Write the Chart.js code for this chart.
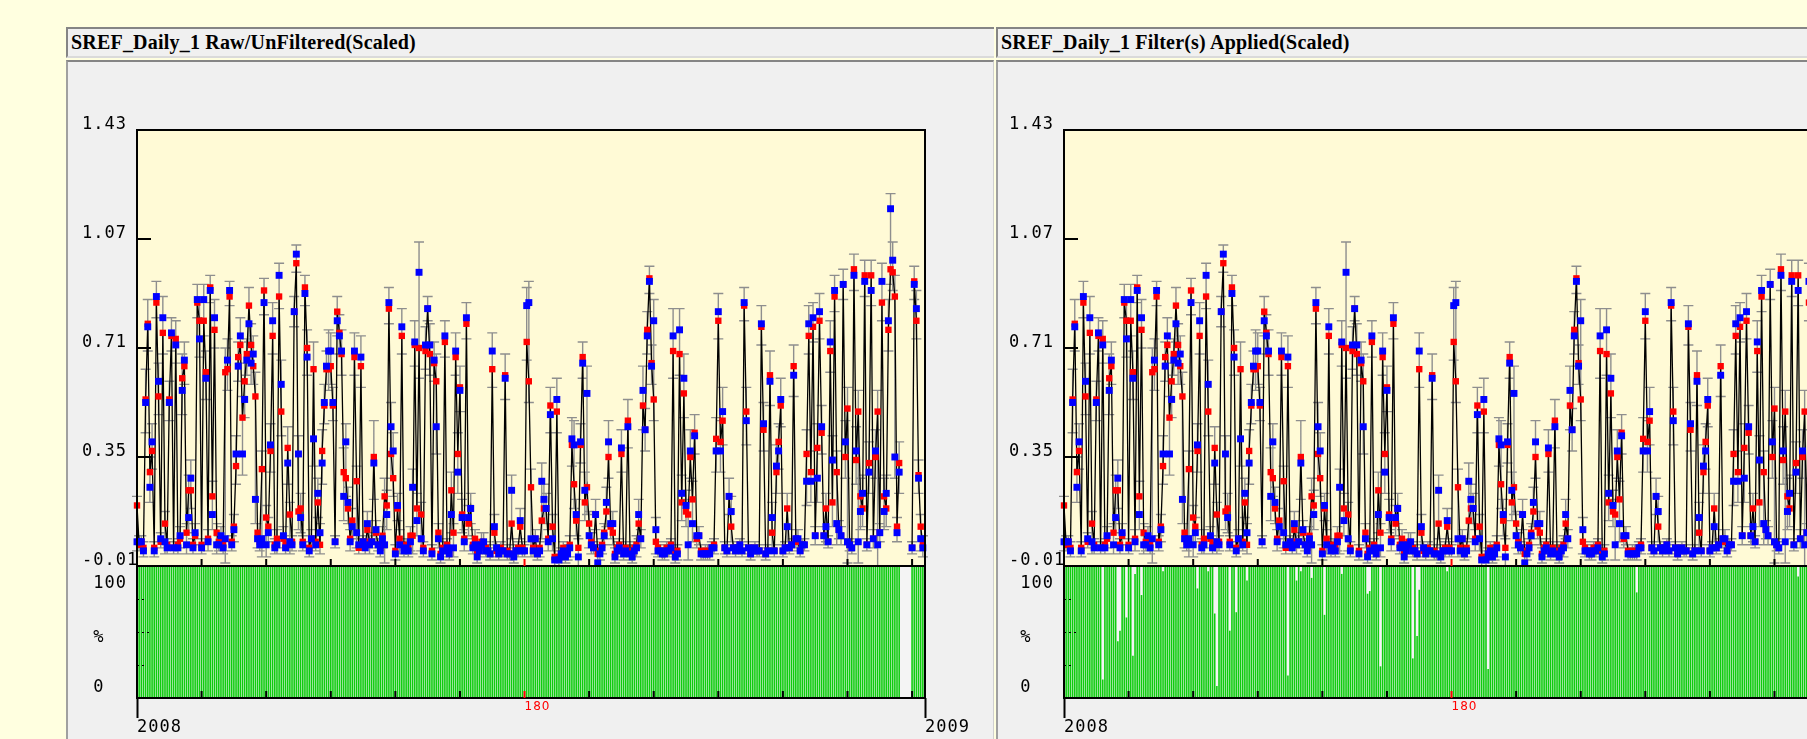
<!DOCTYPE html>
<html>
<head>
<meta charset="utf-8">
<script src="https://cdn.jsdelivr.net/npm/chart.js@4.4.1/dist/chart.umd.min.js"></script>
<style>
  body { margin:0; width:1807px; height:739px; overflow:hidden; background:#FFFFE0; position:relative; }
  .title { position:absolute; top:27px; height:31px; box-sizing:border-box; background:#F0F0F0;
           border-top:2px solid #858585; border-left:2px solid #858585; border-bottom:2px solid #DADADA;
           font:bold 20px "Liberation Serif", serif; letter-spacing:0.2px; line-height:27px; padding-left:3px;
           white-space:nowrap; overflow:hidden; }
  .panel { position:absolute; top:60px; height:679px; box-sizing:border-box; background:#F0F0F0;
           border-top:2px solid #858585; border-left:2px solid #A0A0A0; }
  canvas { position:absolute; top:62px; }
</style>
</head>
<body>
<div class="title" style="left:66px;width:928px">SREF_Daily_1 Raw/UnFiltered(Scaled)</div>
<div class="title" style="left:996px;width:820px">SREF_Daily_1 Filter(s) Applied(Scaled)</div>
<div class="panel" style="left:66px;width:928px;border-right:1px solid #D0D0D0"></div>
<div class="panel" style="left:996px;width:820px"></div>
<canvas id="raw" width="927" height="677" style="left:66px"></canvas>
<canvas id="filtered" width="927" height="677" style="left:993px"></canvas>
<script>
// daily values for 2008 (index = day of year)
const red = [
  .19,.06,.07,.05,.54,.79,.30,.37,.05,.86, .55,.07,.76,.13,.06,.54,.75,.05,.74,.06,
  .08,.61,.65,.10,.24,.24,.06,.09,.86,.80, .06,.80,.63,.08,.91,.22,.77,.10,.07,.07,
  .06,.63,.64,.88,.07,.12,.32,.68,.72,.48, .60,.69,.85,.72,.65,.55,.10,.07,.31,.90,
  .15,.12,.37,.75,.06,.08,.88,.50,.08,.06, .38,.16,.07,.83,.99,.17,.18,.07,.91,.71,
  .05,.08,.64,.07,.20,.06,.37,.52,.64,.64, .65,.52,.07,.83,.76,.69,.30,.28,.18,.08,
  .14,.68,.27,.05,.65,.07,.06,.11,.07,.07, .35,.10,.06,.05,.09,.22,.19,.84,.36,.28,
  .04,.18,.08,.75,.05,.06,.05,.09,.09,.72, .18,.71,.16,.05,.70,.84,.69,.04,.66,.60,
  .10,.03,.05,.73,.06,.03,.24,.10,.68,.36, .58,.16,.08,.79,.13,.18,.06,.08,.03,.05,
  .07,.06,.05,.04,.03,.64,.10,.04,.03,.05, .04,.62,.04,.03,.13,.03,.04,.05,.12,.05,
  .04,.73,.60,.25,.05,.08,.03,.05,.14,.18, .18,.08,.52,.12,.02,.50,.02,.03,.05,.03,
  .04,.06,.39,.26,.14,.05,.39,.68,.20,.25, .13,.07,.05,.16,.03,.04,.06,.10,.17,.35,
  .12,.10,.03,.05,.06,.36,.04,.05,.47,.04, .03,.05,.06,.13,.08,.52,.44,.77,.94,.66,
  .54,.07,.05,.04,.03,.04,.05,.05,.06,.70, .03,.04,.69,.20,.56,.17,.16,.35,.21,.43,
  .08,.09,.04,.03,.04,.04,.03,.05,.06,.41, .80,.40,.47,.05,.04,.22,.12,.05,.04,.05,
  .06,.04,.85,.50,.05,.03,.04,.05,.04,.04, .78,.44,.03,.04,.62,.10,.04,.30,.40,.52,
  .04,.05,.18,.05,.06,.65,.08,.07,.04,.06, .06,.36,.75,.30,.78,.09,.38,.80,.43,.09,
  .18,.07,.70,.20,.88,.30,.11,.09,.92,.35, .51,.06,.05,.97,.34,.50,.22,.18,.95,.06,
  .33,.95,.08,.35,.50,.10,.86,.22,.18,.77, .97,.96,.88,.12,.33,null,null,null,null,null,
  .05,.93,.80,.29,.12,.06
];
const blue = [
  .07,.07,.07,.04,.53,.78,.25,.40,.04,.88, .60,.08,.81,.07,.05,.53,.76,.05,.72,.05,
  .09,.57,.67,.06,.15,.28,.05,.10,.87,.74, .05,.87,.61,.07,.90,.16,.81,.06,.06,.09,
  .05,.08,.67,.90,.06,.11,.36,.65,.75,.36, .54,.67,.79,.66,.69,.21,.08,.06,.08,.86,
  .06,.10,.39,.80,.05,.06,.95,.59,.09,.05, .33,.07,.06,.83,1.02,.36,.15,.06,.89,.68,
  .04,.08,.41,.06,.23,.10,.33,.53,.65,.70, .70,.53,.07,.80,.75,.70,.22,.40,.20,.07,
  .12,.70,.10,.06,.68,.07,.05,.13,.06,.07, .33,.11,.06,.04,.08,.06,.16,.86,.45,.37,
  .03,.19,.06,.78,.04,.05,.04,.07,.25,.73, .14,.96,.08,.04,.72,.84,.72,.03,.67,.45,
  .08,.02,.04,.75,.05,.03,.16,.05,.70,.30, .57,.15,.07,.81,.15,.18,.05,.06,.02,.04,
  .06,.07,.04,.04,.03,.70,.12,.05,.03,.04, .04,.61,.03,.03,.24,.02,.04,.04,.14,.04,
  .04,.85,.86,.08,.04,.08,.03,.04,.27,.21, .18,.07,.49,.08,.01,.54,.01,.03,.04,.02,
  .03,.05,.41,.39,.16,.02,.40,.66,.24,.56, .09,.06,.05,.16,.00,.03,.05,.09,.20,.40,
  .13,.13,.02,.04,.05,.38,.03,.04,.45,.03, .02,.04,.05,.16,.08,.57,.44,.75,.93,.65,
  .80,.11,.04,.04,.03,.03,.04,.04,.05,.75, .02,.03,.77,.23,.61,.19,.06,.37,.13,.42,
  .09,.09,.03,.03,.03,.03,.03,.05,.05,.37, .83,.37,.50,.05,.04,.22,.17,.05,.04,.05,
  .06,.04,.86,.47,.05,.03,.04,.05,.04,.04, .79,.46,.03,.04,.60,.15,.04,.32,.37,.54,
  .04,.05,.12,.05,.06,.62,.08,.08,.04,.06, .06,.27,.79,.27,.81,.09,.28,.83,.45,.09,
  .12,.07,.73,.34,.90,.13,.11,.09,.92,.40, .07,.06,.05,.95,.37,.07,.17,.23,.93,.06,
  .30,.90,.08,.37,.06,.10,.93,.17,.23,.80, 1.17,1.00,.35,.10,.30,null,null,null,null,null,
  .05,.92,.84,.28,.08,.05
];
// grey error bar reach beyond the red/blue pair
const errs = [
  .03,.02,.02,.02,.10,.08,.05,.06,.02,.05, .06,.02,.07,.04,.02,.06,.05,.02,.06,.02,
  .03,.08,.06,.03,.05,.06,.02,.03,.05,.06, .02,.05,.07,.03,.04,.05,.06,.03,.02,.03,
  .02,.08,.07,.03,.02,.04,.06,.05,.06,.07, .06,.05,.06,.07,.06,.08,.03,.02,.06,.04,
  .04,.03,.07,.06,.02,.03,.04,.08,.03,.02, .07,.04,.02,.05,.03,.06,.05,.02,.04,.06,
  .02,.03,.09,.02,.05,.03,.07,.06,.05,.07, .06,.05,.02,.05,.06,.07,.08,.06,.05,.03,
  .04,.06,.05,.02,.07,.02,.02,.04,.03,.02, .12,.03,.02,.02,.03,.06,.05,.05,.08,.06,
  .02,.04,.03,.06,.02,.02,.02,.03,.06,.07, .05,.10,.04,.02,.06,.04,.07,.02,.06,.09,
  .03,.02,.02,.05,.02,.02,.06,.03,.06,.07, .07,.05,.03,.05,.04,.05,.02,.03,.02,.02,
  .03,.03,.02,.02,.02,.06,.04,.02,.02,.02, .02,.07,.02,.02,.05,.02,.02,.02,.04,.02,
  .02,.06,.07,.06,.02,.03,.02,.02,.06,.05, .05,.03,.06,.04,.02,.07,.02,.02,.02,.02,
  .02,.03,.07,.08,.05,.03,.06,.05,.06,.09, .04,.03,.02,.05,.02,.02,.02,.03,.05,.07,
  .04,.04,.02,.02,.02,.06,.02,.02,.07,.02, .02,.02,.03,.05,.03,.08,.07,.06,.04,.06,
  .07,.04,.02,.02,.02,.02,.02,.02,.02,.09, .02,.02,.07,.06,.08,.05,.05,.07,.06,.06,
  .03,.03,.02,.02,.02,.02,.02,.02,.02,.07, .06,.07,.08,.02,.02,.06,.05,.02,.02,.02,
  .02,.02,.05,.08,.02,.02,.02,.02,.02,.02, .06,.07,.02,.02,.08,.05,.02,.07,.06,.07,
  .02,.02,.05,.02,.02,.07,.03,.03,.02,.02, .02,.08,.06,.07,.05,.03,.08,.06,.07,.03,
  .05,.02,.07,.08,.05,.07,.03,.03,.05,.07, .07,.02,.02,.05,.08,.07,.06,.06,.05,.02,
  .07,.05,.03,.07,.07,.03,.06,.06,.06,.07, .05,.06,.07,.03,.07,0,0,0,0,0,
  .02,.05,.06,.05,.04,.03
];
const dayTicks = [0, 30, 60, 90, 120, 150, 180, 210, 240, 270, 300, 330, 360, 366];
const valueTicks = [-0.01, 0.35, 0.71, 1.07, 1.43];
// label spots on the % strip (leading space indents them one character)
const pctLabels = [[7.6, ' 0'], [46, ' %'], [87, ' 100']];
const pctMinorTicks = [25, 50, 75];
// % of data per day: raw is full except the gap, filtered has these short days
const rawMissing = [355, 356, 357, 358, 359];
const filteredShort = [
  [18,14],[25,43],[26,51],[29,61],[32,32],[33,94],[36,78],[46,96],[62,83],[67,96],
  [70,64],[71,9],[77,51],[80,65],[85,89],[104,17],[108,89],[110,96],[115,91],[121,63],
  [129,94],[141,79],[142,81],[147,24],[162,30],[164,47],[165,82],[178,96],[197,22],
  [266,80],[341,92]
];

const rawPct = red.map((v, i) => rawMissing.includes(i) ? 0 : 100);
const filteredPct = rawPct.slice();
filteredShort.forEach(([d, p]) => { filteredPct[d] = p; });

const mono = '"DejaVu Sans Mono", monospace';

const decor = {
  id: 'decor',
  afterInit(chart) { chart.ctx.letterSpacing = '1px'; },
  beforeDraw(chart) {
    const {ctx, scales: {x, y, yp}} = chart;
    ctx.save();
    ctx.fillStyle = '#FFFAD6';
    ctx.fillRect(x.left, y.top, x.right - x.left, y.bottom - y.top);
    ctx.fillStyle = '#F4F4F4';
    ctx.fillRect(x.left, yp.top, x.right - x.left, yp.bottom - yp.top);
    ctx.restore();
  },
  afterDatasetDraw(chart, args) {
    if (args.index !== 0) return;
    // error bars go over the green strip's dataset, under the line
    const {ctx, scales: {x, y}} = chart;
    ctx.save();
    ctx.strokeStyle = '#8E8E8E';
    ctx.lineWidth = 1.4;
    ctx.beginPath();
    red.forEach((v, i) => {
      if (v == null) return;
      const lo = Math.max(Math.min(v, blue[i]) - errs[i], -0.01);
      const hi = Math.max(v, blue[i]) + errs[i];
      const px = x.getPixelForValue(i), p1 = y.getPixelForValue(lo), p2 = y.getPixelForValue(hi);
      ctx.moveTo(px, p1); ctx.lineTo(px, p2);
      ctx.moveTo(px - 5, p2); ctx.lineTo(px + 5, p2);
      ctx.moveTo(px - 5, p1); ctx.lineTo(px + 5, p1);
    });
    ctx.stroke();
    ctx.restore();
  },
  afterDraw(chart) {
    const {ctx, scales: {x, y, yp}} = chart;
    ctx.save();
    ctx.strokeStyle = '#000';
    ctx.lineWidth = 2;
    ctx.strokeRect(x.left, y.top, x.right - x.left, yp.bottom - y.top);
    ctx.beginPath();
    ctx.moveTo(x.left, y.bottom); ctx.lineTo(x.right, y.bottom);
    valueTicks.slice(1, -1).forEach(v => {
      const py = y.getPixelForValue(v);
      ctx.moveTo(x.left, py); ctx.lineTo(x.left + 14, py);
    });
    ctx.stroke();
    dayTicks.slice(1, -1).forEach(d => {
      const px = x.getPixelForValue(d);
      ctx.strokeStyle = d === 180 ? '#FF0000' : '#000';
      ctx.beginPath();
      ctx.moveTo(px, y.bottom); ctx.lineTo(px, y.bottom - 7);
      ctx.moveTo(px, yp.bottom); ctx.lineTo(px, yp.bottom - 7);
      ctx.stroke();
    });
    ctx.strokeStyle = '#000';
    ctx.lineWidth = 1;
    ctx.setLineDash([2, 3]);
    ctx.beginPath();
    pctMinorTicks.forEach(p => {
      const py = Math.round(yp.getPixelForValue(p)) + 0.5;
      ctx.moveTo(x.left, py); ctx.lineTo(x.left + (p === 50 ? 15 : 9), py);
    });
    ctx.stroke();
    ctx.restore();
  }
};

function makeChart(id, pct) {
  return new Chart(document.getElementById(id), {
    type: 'scatter',
    data: {
      datasets: [
        { type: 'bar', data: pct.map((v, i) => ({x: i, y: v})), yAxisID: 'yp',
          backgroundColor: '#0FCC0F', barPercentage: 0.74, categoryPercentage: 1, order: 4 },
        { type: 'line', data: red.map((v, i) => ({x: i, y: v})), yAxisID: 'y',
          borderColor: '#000', borderWidth: 1.3, pointRadius: 0, spanGaps: false, order: 3 },
        { data: red.map((v, i) => ({x: i, y: v})), yAxisID: 'y', pointStyle: 'rect',
          pointRadius: 4.5, backgroundColor: '#FF0000', borderWidth: 0, clip: false, order: 2 },
        { data: blue.map((v, i) => ({x: i, y: v})), yAxisID: 'y', pointStyle: 'rect',
          pointRadius: 4.9, backgroundColor: '#0000FF', borderWidth: 0, clip: false, order: 1 }
      ]
    },
    options: {
      responsive: false,
      animation: false,
      events: [],
      layout: { padding: { top: 68, right: 68, left: 16, bottom: 0 } },
      plugins: { legend: { display: false }, tooltip: { enabled: false } },
      scales: {
        x: {
          type: 'linear', min: 0, max: 366, offset: false,
          afterBuildTicks: s => { s.ticks = dayTicks.map(v => ({value: v})); },
          afterFit: s => { s.height = 41; },
          border: { display: false },
          grid: {
            offset: false, drawOnChartArea: false, drawTicks: true, tickLength: 20, tickWidth: 2,
            tickColor: c => (c.tick && (c.tick.value === 0 || c.tick.value === 366)) ? '#000' : 'rgba(0,0,0,0)'
          },
          ticks: {
            autoSkip: false, maxRotation: 0, align: 'start', padding: -18,
            color: c => c.tick && c.tick.value === 180 ? '#FF0000' : '#000',
            font: c => c.tick && c.tick.value === 180
              ? { family: '"DejaVu Sans", sans-serif', size: 12, lineHeight: 1.2 }
              : { family: mono, size: 17, lineHeight: 1.1 },
            callback: v => v === 0 ? ['', '2008'] : v === 366 ? ['', '2009'] : v === 180 ? '180' : ''
          }
        },
        yp: {
          type: 'linear', position: 'left', stack: 'v', stackWeight: 132, min: 0, max: 100,
          afterBuildTicks: s => { s.ticks = pctLabels.map(p => ({value: p[0]})); },
          afterFit: s => { s.width = 55; },
          grid: { display: false, drawTicks: false },
          border: { display: false },
          ticks: { crossAlign: 'far', padding: 0, color: '#000', font: { family: mono, size: 17 },
                   callback: (v, i) => pctLabels[i][1] }
        },
        y: {
          type: 'linear', position: 'left', stack: 'v', stackWeight: 436, min: -0.01, max: 1.43,
          afterBuildTicks: s => { s.ticks = valueTicks.map(v => ({value: v})); },
          afterFit: s => { s.width = 55; },
          grid: { display: false, drawTicks: false },
          border: { display: false },
          ticks: { crossAlign: 'far', padding: 0, labelOffset: -5, color: '#000',
                   font: { family: mono, size: 17 }, callback: v => v.toFixed(2) }
        }
      }
    },
    plugins: [decor]
  });
}

makeChart('raw', rawPct);
makeChart('filtered', filteredPct);
</script>
</body>
</html>
